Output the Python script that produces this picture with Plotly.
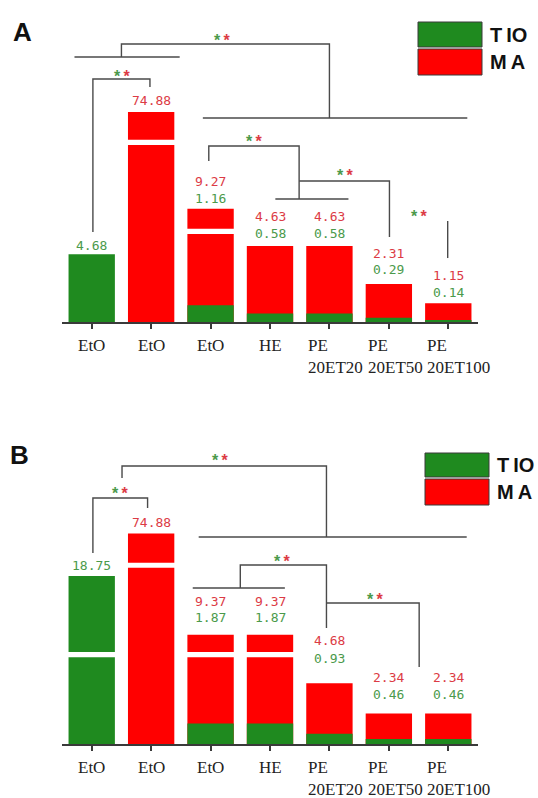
import math
import plotly.graph_objects as go

# ---- data -------------------------------------------------------------
categories = ["EtO", "EtO", "EtO", "HE", "PE<br>20ET20", "PE<br>20ET50", "PE<br>20ET100"]

ma_a = [None, 74.88, 9.27, 4.63, 4.63, 2.31, 1.15]
tio_a = [4.68, None, 1.16, 0.58, 0.58, 0.29, 0.14]

ma_b = [None, 74.88, 9.37, 9.37, 4.68, 2.34, 2.34]
tio_b = [18.75, None, 1.87, 1.87, 0.93, 0.46, 0.46]

# ---- styling ----------------------------------------------------------
W, H = 538, 798
RED = "#ff0000"
GREEN = "#1f8a1f"
RED_TXT = "#dc3b45"
GREEN_TXT = "#4b9a4b"
LINE = "#4a4a4a"
BAR_W = 0.78


def px_x(p):
    return p / W


def px_y(p):
    return 1 - p / H


def squash(v, c, s):
    """Broken-axis transform: linear up to c, logarithmically compressed above."""
    if v is None:
        return None
    return v if v <= c else c + s * math.log(v / c)


# panel geometry (pixels) and axis scales (pixels per unit)
panels = {
    "A": dict(base=322, red_ppu=16.4, green_ppu=14.5, red_cut=(5.35, 2.824), green_cut=(5.35, 2.824),
              xa="x", ya="y", ya2="y2"),
    "B": dict(base=744, red_ppu=13.0, green_ppu=11.0, red_cut=(7.62, 3.75), green_cut=(8.15, 8.55),
              xa="x2", ya="y3", ya2="y4"),
}
PLOT_H = 300

fig = go.Figure()

series = {"A": (ma_a, tio_a), "B": (ma_b, tio_b)}
for key, p in panels.items():
    ma, tio = series[key]
    fig.add_trace(go.Bar(x=list(range(len(categories))), y=[squash(v, *p["red_cut"]) for v in ma],
                         xaxis=p["xa"], yaxis=p["ya"], marker=dict(color=RED, line=dict(width=0)),
                         width=BAR_W, showlegend=False, hoverinfo="skip"))
    fig.add_trace(go.Bar(x=list(range(len(categories))), y=[squash(v, *p["green_cut"]) for v in tio],
                         xaxis=p["xa"], yaxis=p["ya2"], marker=dict(color=GREEN, line=dict(width=0)),
                         width=BAR_W, showlegend=False, hoverinfo="skip"))

x_dom = [px_x(62), px_x(478)]
axis_common = dict(range=[-0.5, 6.5], domain=x_dom, showline=True, linecolor="#3a3a3a", linewidth=2,
                   ticks="outside", ticklen=5, tickwidth=1.5, tickcolor="#3a3a3a",
                   tickvals=list(range(7)), showticklabels=False, showgrid=False, zeroline=False,
                   fixedrange=True)

layout = dict(width=W, height=H, margin=dict(l=0, r=0, t=0, b=0), paper_bgcolor="white",
              plot_bgcolor="rgba(0,0,0,0)", barmode="overlay", showlegend=False)
layout["xaxis"] = dict(axis_common, anchor="y")
layout["xaxis2"] = dict(axis_common, anchor="y3")
for key, yname, y2name in (("A", "yaxis", "yaxis2"), ("B", "yaxis3", "yaxis4")):
    p = panels[key]
    dom = [px_y(p["base"]), px_y(p["base"] - PLOT_H)]
    xa = p["xa"]
    layout[yname] = dict(domain=dom, range=[0, PLOT_H / p["red_ppu"]], visible=False, anchor=xa,
                         fixedrange=True)
    layout[y2name] = dict(domain=dom, range=[0, PLOT_H / p["green_ppu"]], visible=False,
                          overlaying=p["ya"], anchor=xa, fixedrange=True)
fig.update_layout(**layout)

shapes = []
annotations = []

# ---- axis breaks (white bands across tall bars), red-axis units --------
breaks = {
    "A": [(1, 10.95), (2, 5.52)],
    "B": [(0, 6.88), (1, 13.75), (2, 6.88), (3, 6.88)],
}
for key, items in breaks.items():
    p = panels[key]
    half = 2.6 / p["red_ppu"]
    for i, yc in items:
        shapes.append(dict(type="rect", xref=p["xa"], yref=p["ya"], x0=i - 0.42, x1=i + 0.42,
                           y0=yc - half, y1=yc + half, fillcolor="white", line=dict(width=0),
                           layer="above"))

# ---- value labels -------------------------------------------------------
label_gap = {
    "A": [(9, None), (None, 11.5), (10, 27), (13, 30), (13, 30), (15, 31), (11, 28)],
    "B": [(10, None), (None, 11), (17, 33), (17, 33), (25, 43), (19, 36), (19, 36)],
}
LBL_FONT = "DejaVu Sans Mono"
for key, p in panels.items():
    ma, tio = series[key]
    for i in range(len(categories)):
        g_gap, r_gap = label_gap[key][i]
        if ma[i] is not None:
            top = squash(ma[i], *p["red_cut"])
            yref = p["ya"]
        else:
            top = squash(tio[i], *p["green_cut"])
            yref = p["ya2"]
        if ma[i] is not None:
            annotations.append(dict(x=i, y=top, xref=p["xa"], yref=yref, text=f"{ma[i]:.2f}",
                                    showarrow=False, yanchor="middle", yshift=r_gap,
                                    font=dict(family=LBL_FONT, size=13, color=RED_TXT)))
        if tio[i] is not None:
            annotations.append(dict(x=i, y=top, xref=p["xa"], yref=yref, text=f"{tio[i]:.2f}",
                                    showarrow=False, yanchor="middle", yshift=g_gap,
                                    font=dict(family=LBL_FONT, size=13, color=GREEN_TXT)))

# ---- category labels ------------------------------------------------------
for key, p in panels.items():
    for i, cat in enumerate(categories):
        two_line = "<br>" in cat
        annotations.append(dict(x=i, y=px_y(p["base"] + 12), xref=p["xa"], yref="paper", text=cat,
                                showarrow=False, yanchor="top", align="left",
                                xanchor="left" if two_line else "center",
                                xshift=-23 if two_line else 0,
                                font=dict(family="Liberation Serif", size=17, color="#222")))

# ---- significance brackets (x in category units, y in red-axis units) ----
brackets = {
    "A": [
        [(0.5, 16.16), (0.5, 16.95), (4.0, 16.95), (4.0, 12.44)],
        [(-0.29, 16.16), (1.48, 16.16)],
        [(1.87, 12.44), (6.32, 12.44)],
        [(0.02, 5.49), (0.02, 14.82), (0.98, 14.82), (0.98, 14.33)],
        [(1.97, 9.82), (1.97, 10.73), (3.49, 10.73), (3.49, 7.5)],
        [(3.09, 7.5), (4.32, 7.5)],
        [(3.49, 8.6), (5.01, 8.6), (5.01, 5.18)],
        [(5.99, 6.16), (5.99, 3.9)],
    ],
    "B": [
        [(0.51, 20.46), (0.51, 21.38), (3.95, 21.38), (3.95, 15.92)],
        [(1.8, 15.92), (6.31, 15.92)],
        [(0.02, 14.69), (0.02, 18.92), (0.94, 18.92), (0.94, 18.15)],
        [(2.5, 12.0), (2.5, 13.77), (3.95, 13.77), (3.95, 8.92)],
        [(1.7, 12.0), (3.25, 12.0)],
        [(3.95, 10.85), (5.51, 10.85), (5.51, 5.92)],
    ],
}
stars = {
    "A": [(2.19, 17.38), (0.51, 15.24), (2.73, 11.22), (4.27, 9.15), (5.5, 6.7)],
    "B": [(2.16, 22.08), (0.47, 19.54), (3.2, 14.38), (4.77, 11.46)],
}
for key, p in panels.items():
    for pts in brackets[key]:
        path = "M " + " L ".join(f"{x},{y}" for x, y in pts)
        shapes.append(dict(type="path", path=path, xref=p["xa"], yref=p["ya"],
                           line=dict(color=LINE, width=1.4), layer="above"))
    for x, y in stars[key]:
        annotations.append(dict(x=x, y=y, xref=p["xa"], yref=p["ya"], showarrow=False,
                                yanchor="middle", yshift=-4,
                                text=f"<b><span style='color:{GREEN_TXT}'>*</span>\u2009"
                                     f"<span style='color:{RED_TXT}'>*</span></b>",
                                font=dict(family="Liberation Sans", size=16)))

# ---- legends and panel letters (pixel placement) -------------------------
legend_boxes = {"A": (418, 482, 22, 47, 49, 75), "B": (425, 489, 453, 477, 479, 505)}
for key, (x0, x1, g0, g1, r0, r1) in legend_boxes.items():
    for (y0, y1, col, name) in ((g0, g1, GREEN, "T\u2009IO"), (r0, r1, RED, "M\u2009A")):
        shapes.append(dict(type="rect", xref="paper", yref="paper", x0=px_x(x0), x1=px_x(x1),
                           y0=px_y(y1), y1=px_y(y0), fillcolor=col,
                           line=dict(color="#3a3a3a", width=1)))
        annotations.append(dict(x=px_x(x1 + 6), y=px_y((y0 + y1) / 2), xref="paper", yref="paper",
                                text=f"<b>{name}</b>", showarrow=False, xanchor="left",
                                yanchor="middle",
                                font=dict(family="Liberation Sans", size=20, color="#111")))

for letter, (cx, cy) in (("<b>A</b>", (22, 32)), ("<b>B</b>", (19, 455))):
    annotations.append(dict(x=px_x(cx), y=px_y(cy), xref="paper", yref="paper", text=letter,
                            showarrow=False, xanchor="center", yanchor="middle",
                            font=dict(family="Liberation Sans", size=26, color="#111")))

fig.update_layout(shapes=shapes, annotations=annotations)
fig.write_html("out.html")
